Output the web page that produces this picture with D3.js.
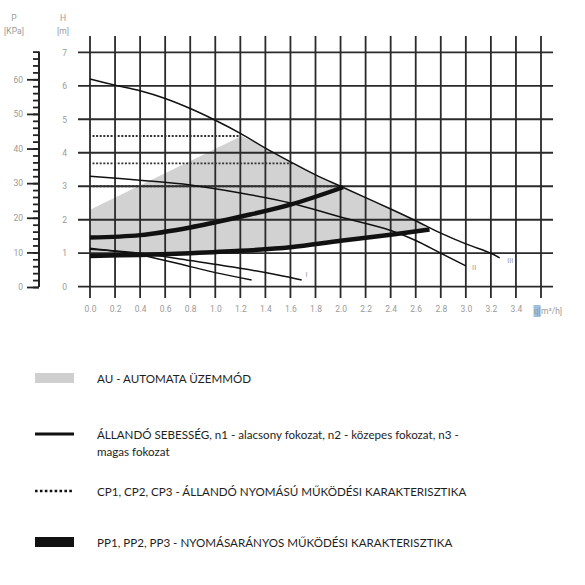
<!DOCTYPE html>
<html>
<head>
<meta charset="utf-8">
<script src="https://cdn.jsdelivr.net/npm/d3@7"></script>
<style>
  body { margin: 0; background: #fff; }
  svg { display: block; }
  .tick-lbl text { fill: #9a9a9a; font-family: Roboto, sans-serif; font-size: 8.5px; }
  .legend text { fill: #1e1e1e; font-family: Lato, sans-serif; font-size: 11.6px; }
</style>
</head>
<body>
<div id="chart"></div>
<script>
// flow q [m3/h] ticks and head H [m] ticks
const flowTicks = d3.range(0, 3.41, 0.2);
const headTicks = [0, 1, 2, 3, 4, 5, 6, 7];
const pressureMajor = [0, 10, 20, 30, 40, 50, 60];
const pressureMinor = d3.range(0, 68.1, 2);

// constant speed curves (q, H)
const curveIII = [[0, 6.2], [0.2, 6.02], [0.4, 5.85], [0.6, 5.62], [0.8, 5.32], [1.0, 4.97], [1.2, 4.58],
  [1.4, 4.14], [1.6, 3.73], [1.8, 3.34], [2.0, 3.0], [2.2, 2.66], [2.4, 2.32], [2.6, 1.97],
  [2.8, 1.6], [3.0, 1.28], [3.2, 1.0], [3.27, 0.86]];
const curveII = [[0, 3.3], [0.4, 3.18], [0.8, 3.04], [1.2, 2.8], [1.6, 2.5], [2.0, 2.08],
  [2.4, 1.68], [2.6, 1.38], [2.8, 1.0], [3.0, 0.62]];
const curveI = [[0, 1.12], [0.4, 1.0], [0.8, 0.78], [1.2, 0.55], [1.5, 0.35], [1.69, 0.2]];
const curveMin = [[0, 1.15], [0.4, 0.95], [0.8, 0.6], [1.0, 0.42], [1.29, 0.2]];

// proportional pressure curves
const ppLow = [[0, 0.92], [0.4, 0.95], [0.8, 1.0], [1.2, 1.07], [1.6, 1.18], [2.0, 1.37], [2.4, 1.55], [2.71, 1.71]];
const ppHigh = [[0, 1.47], [0.4, 1.54], [0.8, 1.77], [1.2, 2.09], [1.6, 2.45], [2.02, 2.97]];

// constant pressure lines: level H and flow range
const cpLevels = [4.5, 3.68, 3.0];
const cpEnds = [1.2, 1.62, 2.02];
const cpStart = 0.02;

// automatic mode area outline
const auArea = [[0, 0.92], [0.4, 0.95], [0.8, 1.0], [1.2, 1.07], [1.6, 1.18], [2.0, 1.37], [2.4, 1.55], [2.71, 1.71],
  [2.6, 1.97], [2.4, 2.32], [2.2, 2.66], [2.0, 3.0], [1.8, 3.34], [1.6, 3.73], [1.4, 4.14], [1.21, 4.5], [0, 2.3]];

const curveLabels = [["I", 1.72, 0.3], ["II", 3.05, 0.5], ["III", 3.33, 0.72]];

const legendItems = [
  { kind: "area", text: ["AU - AUTOMATA ÜZEMMÓD"] },
  { kind: "line", text: ["ÁLLANDÓ SEBESSÉG, n1 - alacsony fokozat, n2 - közepes fokozat, n3 -", "magas fokozat"] },
  { kind: "dot", text: ["CP1, CP2, CP3 - ÁLLANDÓ NYOMÁSÚ MŰKÖDÉSI KARAKTERISZTIKA"] },
  { kind: "thick", text: ["PP1, PP2, PP3 - NYOMÁSARÁNYOS MŰKÖDÉSI KARAKTERISZTIKA"] }
];
const legendY = [378, 434, 491, 542];

const width = 585, height = 585;
const svg = d3.select("#chart").append("svg")
  .attr("width", width).attr("height", height);

const x = d3.scaleLinear().domain([0, 3.6]).range([90, 541]);
const y = d3.scaleLinear().domain([0, 7]).range([286.7, 52.3]);
const p = d3.scaleLinear().domain([0, 60]).range([287, 79.3]);

const line = d3.line().x(d => x(d[0])).y(d => y(d[1])).curve(d3.curveCatmullRom.alpha(0.5));

// AU area
svg.append("path")
  .attr("d", d3.line().x(d => x(d[0])).y(d => y(d[1])).curve(d3.curveLinearClosed)(auArea))
  .attr("fill", "#d2d2d2");

// grid
const gridColor = "#2a2a2a";
svg.append("g").selectAll("line")
  .data(d3.range(0, 3.61, 0.2))
  .join("line")
  .attr("x1", d => x(d)).attr("x2", d => x(d))
  .attr("y1", 36).attr("y2", 298)
  .attr("stroke", gridColor).attr("stroke-width", 1.8);
svg.append("g").selectAll("line")
  .data(headTicks)
  .join("line")
  .attr("x1", 78).attr("x2", 553)
  .attr("y1", d => y(d)).attr("y2", d => y(d))
  .attr("stroke", gridColor).attr("stroke-width", 1.8);

// constant pressure dotted lines
svg.append("g").selectAll("line")
  .data(cpLevels)
  .join("line")
  .attr("x1", x(cpStart)).attr("x2", (d, i) => x(cpEnds[i]))
  .attr("y1", d => y(d)).attr("y2", d => y(d))
  .attr("stroke", "#333").attr("stroke-width", 1.8)
  .attr("stroke-dasharray", "2,1.6");

// constant speed curves
svg.append("g").selectAll("path")
  .data([curveIII, curveII, curveI, curveMin])
  .join("path")
  .attr("d", line)
  .attr("fill", "none").attr("stroke", "#111").attr("stroke-width", 1.5);

// proportional pressure curves
svg.append("g").selectAll("path")
  .data([ppLow, ppHigh])
  .join("path")
  .attr("d", line)
  .attr("fill", "none").attr("stroke", "#111").attr("stroke-width", 4.5)
  .attr("stroke-linecap", "butt");

// curve labels
svg.append("g").selectAll("text")
  .data(curveLabels)
  .join("text")
  .attr("x", d => x(d[1])).attr("y", d => y(d[2]))
  .attr("fill", "#9a9a9a").attr("font-family", "Roboto, sans-serif").attr("font-size", 7.5)
  .text(d => d[0]);

// x axis labels
const xAxis = svg.append("g").attr("class", "tick-lbl")
  .attr("transform", "translate(0,298)")
  .call(d3.axisBottom(x).tickValues(flowTicks).tickFormat(d3.format(".1f")).tickSize(0).tickPadding(8));
xAxis.select(".domain").remove();
svg.append("rect")
  .attr("x", x(3.6) - 7.5).attr("y", 305).attr("width", 7).attr("height", 12)
  .attr("fill", "#9cc0e2");
svg.append("text")
  .attr("x", x(3.6) - 7).attr("y", 314)
  .attr("fill", "#9a9a9a").attr("font-family", "Roboto, sans-serif").attr("font-size", 8.5)
  .text("q[m³/h]");

// H axis labels
const hAxis = svg.append("g").attr("class", "tick-lbl")
  .attr("transform", "translate(78,0)")
  .call(d3.axisLeft(y).tickValues(headTicks).tickFormat(d3.format("d")).tickSize(0).tickPadding(11));
hAxis.select(".domain").remove();
hAxis.selectAll("text").attr("font-size", 9.5);

// P axis
const pMinor = svg.append("g")
  .attr("transform", "translate(39,0)")
  .call(d3.axisLeft(p).tickValues(pressureMinor).tickSize(6).tickFormat(""));
pMinor.select(".domain").attr("d", `M0,${p(0)}V${p(68)}`).attr("stroke", "#222").attr("stroke-width", 2);
pMinor.selectAll(".tick line").attr("stroke", "#222").attr("stroke-width", 1.8);
const pMajor = svg.append("g").attr("class", "tick-lbl")
  .attr("transform", "translate(39,0)")
  .call(d3.axisLeft(p).tickValues(pressureMajor).tickSize(12).tickPadding(4));
pMajor.select(".domain").remove();
pMajor.selectAll(".tick line").attr("stroke", "#222").attr("stroke-width", 1.8);
pMajor.selectAll("text").attr("font-size", 9.5);

// axis titles
const titles = [["P", 14, 21], ["[KPa]", 14, 34], ["H", 63, 21], ["[m]", 63, 34]];
svg.append("g").selectAll("text")
  .data(titles)
  .join("text")
  .attr("x", d => d[1]).attr("y", d => d[2])
  .attr("text-anchor", "middle")
  .attr("fill", "#9a9a9a").attr("font-family", "Roboto, sans-serif").attr("font-size", 8.5)
  .text(d => d[0]);

// legend
const legend = svg.append("g").attr("class", "legend");
legendItems.forEach((item, i) => {
  const ly = legendY[i];
  const g = legend.append("g");
  if (item.kind === "area") {
    g.append("rect").attr("x", 35).attr("y", ly - 5).attr("width", 39).attr("height", 10).attr("fill", "#cfcfcf");
  } else if (item.kind === "line") {
    g.append("line").attr("x1", 35).attr("x2", 74).attr("y1", ly).attr("y2", ly)
      .attr("stroke", "#111").attr("stroke-width", 3);
  } else if (item.kind === "dot") {
    g.append("line").attr("x1", 35).attr("x2", 74).attr("y1", ly).attr("y2", ly)
      .attr("stroke", "#111").attr("stroke-width", 2.5).attr("stroke-dasharray", "2.6,2.3");
  } else {
    g.append("rect").attr("x", 35).attr("y", ly - 5).attr("width", 39).attr("height", 10).attr("fill", "#111");
  }
  item.text.forEach((t, j) => {
    g.append("text").attr("x", 97).attr("y", ly + 5 + j * 17).text(t);
  });
});
</script>
</body>
</html>
